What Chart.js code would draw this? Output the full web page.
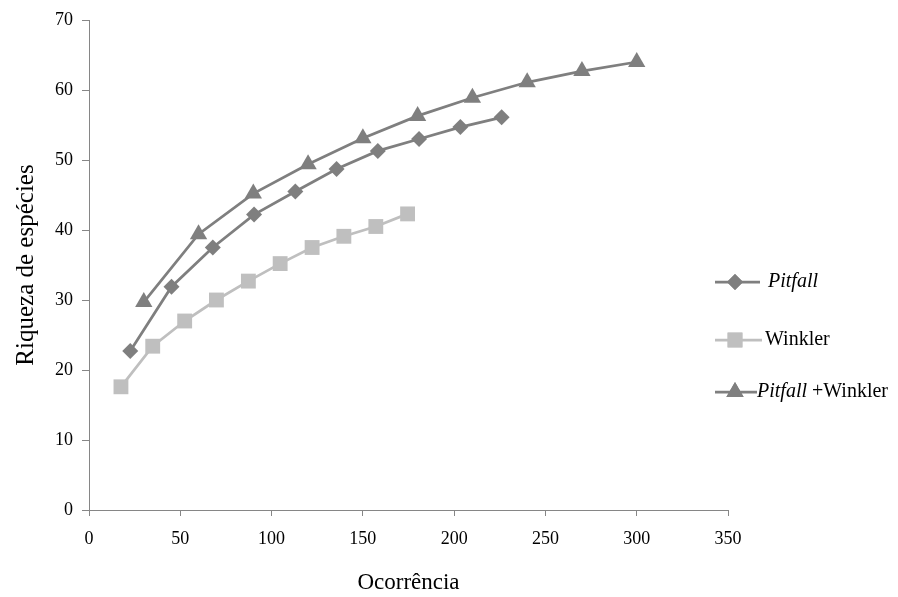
<!DOCTYPE html>
<html lang="pt">
<head>
  <meta charset="UTF-8">
  <title>Riqueza de espécies x Ocorrência</title>
  <script src="https://cdn.jsdelivr.net/npm/chart.js"></script>
  <style>
    html, body { margin: 0; padding: 0; background: #fff; }
    #grafico { display: block; }
  </style>
</head>
<body>
  <canvas id="grafico" width="898" height="597"></canvas>

  <script>
    // Dados
    const pitfallX = [22.6, 45.2, 67.8, 90.4, 113, 135.6, 158.2, 180.8, 203.4, 226];
    const pitfallY = [22.7, 31.9, 37.5, 42.2, 45.5, 48.7, 51.3, 53.0, 54.7, 56.1];

    const winklerX = [17.5, 34.9, 52.4, 69.8, 87.3, 104.7, 122.2, 139.6, 157.1, 174.5];
    const winklerY = [17.6, 23.4, 27.0, 30.0, 32.7, 35.2, 37.5, 39.1, 40.5, 42.3];

    const ambosX = [30, 60, 90, 120, 150, 180, 210, 240, 270, 300];
    const ambosY = [29.7, 39.4, 45.2, 49.4, 53.1, 56.3, 58.9, 61.1, 62.7, 64.0];

    const ticksX = [0, 50, 100, 150, 200, 250, 300, 350];
    const ticksY = [0, 10, 20, 30, 40, 50, 60, 70];

    const cinza = "#7f7f7f";
    const cinzaClaro = "#bfbfbf";
    const fonte = "'Liberation Serif', 'Times New Roman', serif";

    function pontos(xs, ys) {
      return xs.map((x, i) => ({ x: x, y: ys[i] }));
    }

    // Legenda desenhada à mão (texto parcialmente em itálico)
    const legendaPlugin = {
      id: "legenda",
      afterDraw(chart) {
        const ctx = chart.ctx;
        const itens = [
          { y: 282, cor: cinza, estilo: "rectRot", raio: 8, texto: [["italic", "Pitfall"]], tx: 768, x2: 760 },
          { y: 340, cor: cinzaClaro, estilo: "rect", raio: 10.5, texto: [["normal", "Winkler"]], tx: 765, x2: 762 },
          { y: 392, cor: cinza, estilo: "triangle", raio: 10, texto: [["italic", "Pitfall"], ["normal", " +Winkler"]], tx: 757, x2: 757 }
        ];
        ctx.save();
        itens.forEach(it => {
          ctx.strokeStyle = it.cor;
          ctx.lineWidth = 2.75;
          ctx.beginPath();
          ctx.moveTo(715, it.y);
          ctx.lineTo(it.x2, it.y);
          ctx.stroke();
          ctx.fillStyle = it.cor;
          Chart.helpers.drawPoint(ctx, { pointStyle: it.estilo, radius: it.raio, borderWidth: 0 }, 735, it.y);
          ctx.fill();
          let x = it.tx;
          ctx.fillStyle = "#000";
          ctx.textBaseline = "middle";
          it.texto.forEach(([estilo, t]) => {
            ctx.font = estilo + " 20px " + fonte;
            ctx.fillText(t, x, it.y);
            x += ctx.measureText(t).width;
          });
        });
        ctx.restore();
      }
    };

    const grafico = new Chart(document.getElementById("grafico"), {
      type: "scatter",
      data: {
        datasets: [
          {
            label: "Pitfall",
            data: pontos(pitfallX, pitfallY),
            showLine: true,
            borderColor: cinza,
            backgroundColor: cinza,
            borderWidth: 2.75,
            pointStyle: "rectRot",
            pointRadius: 8,
            pointBorderWidth: 0
          },
          {
            label: "Winkler",
            data: pontos(winklerX, winklerY),
            showLine: true,
            borderColor: cinzaClaro,
            backgroundColor: cinzaClaro,
            borderWidth: 2.75,
            pointStyle: "rect",
            pointRadius: 10.5,
            pointBorderWidth: 0
          },
          {
            label: "Pitfall +Winkler",
            data: pontos(ambosX, ambosY),
            showLine: true,
            borderColor: cinza,
            backgroundColor: cinza,
            borderWidth: 2.75,
            pointStyle: "triangle",
            pointRadius: 10,
            pointBorderWidth: 0
          }
        ]
      },
      options: {
        responsive: false,
        animation: false,
        layout: { padding: { top: 20, right: 170, left: 0, bottom: 0 } },
        plugins: {
          legend: { display: false },
          tooltip: { enabled: false }
        },
        scales: {
          x: {
            type: "linear",
            min: 0,
            max: 350,
            afterBuildTicks: s => { s.ticks = ticksX.map(v => ({ value: v })); },
            afterFit: s => { s.height = 87; },
            border: { display: true, color: "#868686", width: 1 },
            grid: { display: true, drawOnChartArea: false, drawTicks: true, tickLength: 6, color: "#868686" },
            ticks: { padding: 12, color: "#000", font: { family: fonte, size: 18 } },
            title: {
              display: true,
              text: "Ocorrência",
              color: "#000",
              font: { family: fonte, size: 23 },
              padding: { top: 0, bottom: 0 }
            }
          },
          y: {
            type: "linear",
            min: 0,
            max: 70,
            afterBuildTicks: s => { s.ticks = ticksY.map(v => ({ value: v })); },
            afterFit: s => { s.width = 89; },
            border: { display: true, color: "#868686", width: 1 },
            grid: { display: true, drawOnChartArea: false, drawTicks: true, tickLength: 7, color: "#868686" },
            ticks: { padding: 9, color: "#000", font: { family: fonte, size: 18 } },
            title: {
              display: true,
              text: "Riqueza de espécies",
              color: "#000",
              font: { family: fonte, size: 25 },
              padding: { top: 11, bottom: 0 }
            }
          }
        }
      },
      plugins: [legendaPlugin]
    });
  </script>
</body>
</html>
